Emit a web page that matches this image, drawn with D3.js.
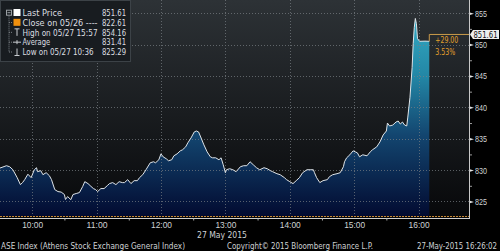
<!DOCTYPE html>
<html>
<head>
<meta charset="utf-8">
<script src="https://cdn.jsdelivr.net/npm/d3@7"></script>
<style>
  body { margin: 0; background: #000; }
  svg { display: block; font-family: "DejaVu Sans Condensed", "Liberation Sans Narrow", "Liberation Sans", sans-serif; }
</style>
</head>
<body>
<div id="chart"></div>
<script>
// intraday prints, 27 May 2015
const times = [
  "09:30","09:36","09:39","09:42","09:46","09:49","09:51","09:53","09:56","09:59",
  "10:02","10:04","10:05","10:08","10:10","10:13","10:16","10:18","10:21","10:24",
  "10:27","10:30","10:31","10:33","10:36","10:38","10:41","10:44","10:47","10:49",
  "10:52","10:54","10:57","10:59","11:01","11:04","11:07","11:10","11:12","11:15",
  "11:18","11:21","11:24","11:26","11:29","11:32","11:35","11:38","11:40","11:43",
  "11:46","11:50","11:53","11:55","11:58","12:00","12:02","12:05","12:07","12:10",
  "12:12","12:15","12:18","12:20","12:23","12:25","12:28","12:31","12:33","12:35",
  "12:37","12:40","12:43","12:46","12:48","12:51","12:54","12:56","12:58","13:00",
  "13:01","13:04","13:07","13:10","13:14","13:17","13:20","13:23","13:26","13:29",
  "13:32","13:36","13:39","13:42","13:44","13:48","13:51","13:55","13:57","14:00",
  "14:03","14:06","14:09","14:12","14:16","14:19","14:22","14:23","14:25","14:28",
  "14:31","14:35","14:37","14:40","14:44","14:47","14:50","14:51","14:53","14:56",
  "14:59","15:01","15:03","15:05","15:08","15:12","15:15","15:17","15:21","15:24",
  "15:27","15:30","15:31","15:33","15:36","15:39","15:41","15:43","15:45","15:47",
  "15:49","15:50","15:52","15:54","15:55","15:56","15:57","15:58","15:59","16:01",
  "16:06","16:10"
];
const prices = [
  830.33,830.70,830.54,830.06,828.80,827.69,828.01,828.48,829.35,828.80,
  830.06,830.38,829.75,829.91,829.27,829.59,829.11,828.48,826.90,826.58,
  826.50,826.11,825.32,825.79,825.29,826.11,826.27,826.42,827.37,828.16,
  827.85,827.53,827.06,826.90,826.58,827.06,827.06,827.53,827.85,828.01,
  827.69,828.16,828.01,828.01,828.48,827.85,828.32,828.32,828.80,829.27,
  830.06,831.17,831.33,831.17,831.65,832.59,832.12,831.80,831.49,831.65,
  832.28,832.59,833.07,833.23,833.70,834.34,835.13,836.08,836.23,836.08,
  835.28,834.02,832.91,832.12,831.96,831.96,831.65,831.96,830.85,829.59,
  830.06,830.22,830.06,829.75,830.54,830.70,830.70,831.33,830.85,830.38,
  830.06,830.38,830.22,829.91,829.75,829.43,829.27,828.80,828.48,828.16,
  827.85,828.32,828.80,829.59,830.06,830.06,830.06,829.59,828.80,828.01,
  828.32,828.48,828.96,829.27,829.43,829.59,830.54,831.33,831.96,832.44,
  833.07,832.91,832.75,832.12,832.44,832.28,832.91,833.23,833.70,834.49,
  835.60,836.23,837.50,837.03,837.18,837.66,837.82,837.34,837.66,837.18,
  837.03,838.45,841.61,846.36,850.16,852.69,854.16,853.32,850.95,850.52,
  850.55,850.52
];

const yTicks = [825, 830, 835, 840, 845, 850, 855];
const yMinor = [827.5, 832.5, 837.5, 842.5, 847.5, 852.5];
const xTicks = ["10:00", "11:00", "12:00", "13:00", "14:00", "15:00", "16:00"];
const xMinor = ["10:30", "11:30", "12:30", "13:30", "14:30", "15:30"];

const legendLabels = ["Last Price", "Close on 05/26 ----", "High on 05/27 15:57", "Average", "Low on 05/27 10:36"];
const legendValues = ["851.61", "822.61", "854.16", "831.41", "825.29"];

const lastPrice = 851.61;
const prevClose = 822.61;
const changeText = "+29.00";
const changePct = "3.53%";
const dateLabel = "27 May 2015";
const footerLeft = "ASE Index (Athens Stock Exchange General Index)";
const footerMid = "Copyright\u00a9 2015 Bloomberg Finance L.P.";
const footerRight = "27-May-2015 16:26:02";

const W = 500, H = 251;
const plotW = 469, plotH = 218;
const parse = d3.timeParse("%Y-%m-%d %H:%M");
const t = s => parse("2015-05-27 " + s);
// rough px-per-char to fit the narrow terminal font
const fit = s => s.length * 3.95;

const data = times.map((s, i) => ({ time: t(s), price: prices[i] }));

const svg = d3.select("#chart").append("svg")
  .attr("width", W).attr("height", H);

const defs = svg.append("defs");
const bg = defs.append("linearGradient").attr("id", "bg")
  .attr("x1", 0).attr("y1", 0).attr("x2", 0).attr("y2", 1);
bg.append("stop").attr("offset", "0%").attr("stop-color", "#2d3236");
bg.append("stop").attr("offset", "100%").attr("stop-color", "#07080a");

const fill = defs.append("linearGradient").attr("id", "fill")
  .attr("gradientUnits", "userSpaceOnUse")
  .attr("x1", 0).attr("y1", 0).attr("x2", 0).attr("y2", 217);
fill.append("stop").attr("offset", "0%").attr("stop-color", "#38b4cc");
fill.append("stop").attr("offset", "35%").attr("stop-color", "#2387a6");
fill.append("stop").attr("offset", "62%").attr("stop-color", "#134670");
fill.append("stop").attr("offset", "100%").attr("stop-color", "#020a30");

const x = d3.scaleTime()
  .domain([t("09:30"), t("16:47")])
  .range([0, plotW]);
const y = d3.scaleLinear()
  .domain([prevClose, 857.1])
  .range([216.5, 0]);

// plot background
svg.append("rect").attr("x", 0).attr("y", 0)
  .attr("width", plotW).attr("height", plotH)
  .attr("fill", "url(#bg)");

// area + line
const area = d3.area()
  .x(d => x(d.time)).y0(y(prevClose)).y1(d => y(d.price));
const line = d3.line()
  .x(d => x(d.time)).y(d => y(d.price));

svg.append("path").datum(data)
  .attr("d", area).attr("fill", "url(#fill)");

// grid
const grid = svg.append("g").attr("stroke", "#7a8085")
  .attr("stroke-dasharray", "1,2").attr("stroke-width", 1).attr("opacity", 0.7);
grid.selectAll(".h").data(yTicks).join("line")
  .attr("x1", 0).attr("x2", plotW)
  .attr("y1", d => Math.round(y(d)) + 0.5).attr("y2", d => Math.round(y(d)) + 0.5);
grid.selectAll(".v").data(xTicks).join("line")
  .attr("x1", d => Math.round(x(t(d))) + 0.5).attr("x2", d => Math.round(x(t(d))) + 0.5)
  .attr("y1", 0).attr("y2", 216);

svg.append("path").datum(data)
  .attr("d", line).attr("fill", "none")
  .attr("stroke", "#dfe4e8").attr("stroke-width", 1);

// previous close line
svg.append("line")
  .attr("x1", 0).attr("x2", plotW)
  .attr("y1", y(prevClose)).attr("y2", y(prevClose))
  .attr("stroke", "#c98a35").attr("stroke-width", 1.2)
  .attr("stroke-dasharray", "2,1");

// last price marker
const last = data[data.length - 1];
svg.append("path")
  .attr("d", `M${x(last.time)},${y(last.price)}V${y(lastPrice)}H${plotW}`)
  .attr("fill", "none").attr("stroke", "#c99a4a").attr("stroke-width", 1);

svg.append("text").attr("x", x(last.time) + 6).attr("y", y(lastPrice) + 9)
  .attr("fill", "#e3a02c").attr("font-size", 8.5)
  .attr("textLength", 23).attr("lengthAdjust", "spacingAndGlyphs").text(changeText);
svg.append("text").attr("x", x(last.time) + 6).attr("y", y(lastPrice) + 21)
  .attr("fill", "#e3a02c").attr("font-size", 8.5)
  .attr("textLength", 20).attr("lengthAdjust", "spacingAndGlyphs").text(changePct);

// y axis
const yAxis = svg.append("g").attr("transform", `translate(${plotW},0)`)
  .call(d3.axisRight(y).tickValues(yTicks).tickSize(0).tickPadding(6).tickFormat(d3.format("d")));
yAxis.select(".domain").remove();
yAxis.selectAll("text").attr("fill", "#cfd2d4").attr("font-size", 9)
  .attr("textLength", 12).attr("lengthAdjust", "spacingAndGlyphs");
yAxis.selectAll(".tick").append("path")
  .attr("d", "M0,-1.5L5,0L0,1.5Z").attr("fill", "#e0e0e0");

const yMin = svg.append("g").attr("transform", `translate(${plotW},0)`)
  .call(d3.axisRight(y).tickValues(yMinor).tickSize(3).tickFormat(""));
yMin.select(".domain").remove();
yMin.selectAll("line").attr("stroke", "#9a9a9a");

svg.append("line").attr("x1", plotW + 0.5).attr("x2", plotW + 0.5)
  .attr("y1", 0).attr("y2", plotH + 1)
  .attr("stroke", "#c8c8c8");

// last price tag
const tagY = y(lastPrice);
svg.append("path")
  .attr("d", `M${plotW + 1},${tagY}L${plotW + 4},${tagY - 4.5}H${W - 1}V${tagY + 4.5}H${plotW + 4}Z`)
  .attr("fill", "#eeeeee");
svg.append("text").attr("x", plotW + 4.5).attr("y", tagY + 3.2)
  .attr("fill", "#111").attr("font-size", 8.5)
  .attr("textLength", 24).attr("lengthAdjust", "spacingAndGlyphs")
  .text(legendValues[0]);

// x axis
const xAxis = svg.append("g").attr("transform", `translate(0,${plotH + 0.5})`)
  .call(d3.axisBottom(x).tickValues(xTicks.map(t)).tickSize(0).tickPadding(3)
    .tickFormat(d3.timeFormat("%H:%M")));
xAxis.select(".domain").attr("stroke", "#d0d0d0").attr("d", `M0,0H${plotW + 1}`);
xAxis.selectAll("text").attr("fill", "#cfd2d4").attr("font-size", 8.5)
  .attr("textLength", 21).attr("lengthAdjust", "spacingAndGlyphs");

const xMin = svg.append("g").attr("transform", `translate(0,${plotH + 0.5})`)
  .call(d3.axisBottom(x).tickValues(xMinor.map(t)).tickSize(2).tickFormat(""));
xMin.select(".domain").remove();
xMin.selectAll("line").attr("stroke", "#b0b0b0");

svg.append("text").attr("x", 222).attr("y", 238)
  .attr("text-anchor", "middle").attr("fill", "#cfd2d4").attr("font-size", 8.5)
  .attr("textLength", 50).attr("lengthAdjust", "spacingAndGlyphs")
  .text(dateLabel);

// footer
svg.append("text").attr("x", 1).attr("y", 248.5)
  .attr("fill", "#cfd2d4").attr("font-size", 8)
  .attr("textLength", 184).attr("lengthAdjust", "spacingAndGlyphs")
  .text(footerLeft);
svg.append("text").attr("x", 227).attr("y", 248.5)
  .attr("fill", "#cfd2d4").attr("font-size", 8)
  .attr("textLength", 146).attr("lengthAdjust", "spacingAndGlyphs")
  .text(footerMid);
svg.append("text").attr("x", 417).attr("y", 248.5)
  .attr("fill", "#cfd2d4").attr("font-size", 8)
  .attr("textLength", 80).attr("lengthAdjust", "spacingAndGlyphs")
  .text(footerRight);

// legend
const legend = svg.append("g");
legend.append("rect").attr("x", 0.5).attr("y", 0.5)
  .attr("width", 130).attr("height", 61)
  .attr("fill", "#181c20").attr("stroke", "#3c4247");

const rowY = d3.scalePoint().domain(d3.range(5)).range([12.7, 52]);

legend.selectAll(".lbl").data(legendLabels).join("text")
  .attr("x", 22.5).attr("y", (d, i) => rowY(i) + 3.3)
  .attr("fill", "#dcdfe1").attr("font-size", 9)
  .attr("textLength", d => fit(d)).attr("lengthAdjust", "spacingAndGlyphs")
  .text(d => d);
legend.selectAll(".val").data(legendValues).join("text")
  .attr("x", 102).attr("y", (d, i) => rowY(i) + 3.3)
  .attr("fill", "#dcdfe1").attr("font-size", 9)
  .attr("textLength", 24).attr("lengthAdjust", "spacingAndGlyphs")
  .text(d => d);

// tree glyphs
legend.append("rect").attr("x", 6.5).attr("y", rowY(0) - 2.5)
  .attr("width", 5).attr("height", 5).attr("fill", "none").attr("stroke", "#9aa0a4");
legend.append("line").attr("x1", 7.5).attr("x2", 10.5)
  .attr("y1", rowY(0)).attr("y2", rowY(0)).attr("stroke", "#9aa0a4");
legend.append("line").attr("x1", 9).attr("x2", 9)
  .attr("y1", rowY(0) + 3).attr("y2", rowY(4))
  .attr("stroke", "#7d8387").attr("stroke-dasharray", "1,1");
legend.selectAll(".br").data([1, 2, 3, 4]).join("line")
  .attr("x1", 9).attr("x2", 12.5)
  .attr("y1", i => rowY(i)).attr("y2", i => rowY(i))
  .attr("stroke", "#7d8387").attr("stroke-dasharray", "1,1");

// series swatches
legend.append("rect").attr("x", 13.5).attr("y", rowY(0) - 3.7)
  .attr("width", 7).attr("height", 7).attr("fill", "#ffffff");
legend.append("rect").attr("x", 13.5).attr("y", rowY(1) - 3.7)
  .attr("width", 7).attr("height", 7).attr("fill", "#f0900e");
legend.append("path")
  .attr("d", `M14.5,${rowY(2) - 3.5}H19.5M17,${rowY(2) - 3.5}V${rowY(2) + 3.5}`)
  .attr("stroke", "#c8ccd0").attr("fill", "none");
legend.append("path")
  .attr("d", `M13,${rowY(3)}H21M17,${rowY(3) - 2}V${rowY(3) + 2}`)
  .attr("stroke", "#c8ccd0").attr("fill", "none");
legend.append("path")
  .attr("d", `M14.5,${rowY(4) + 3.5}H19.5M17,${rowY(4) - 3.5}V${rowY(4) + 3.5}`)
  .attr("stroke", "#c8ccd0").attr("fill", "none");
</script>
</body>
</html>
